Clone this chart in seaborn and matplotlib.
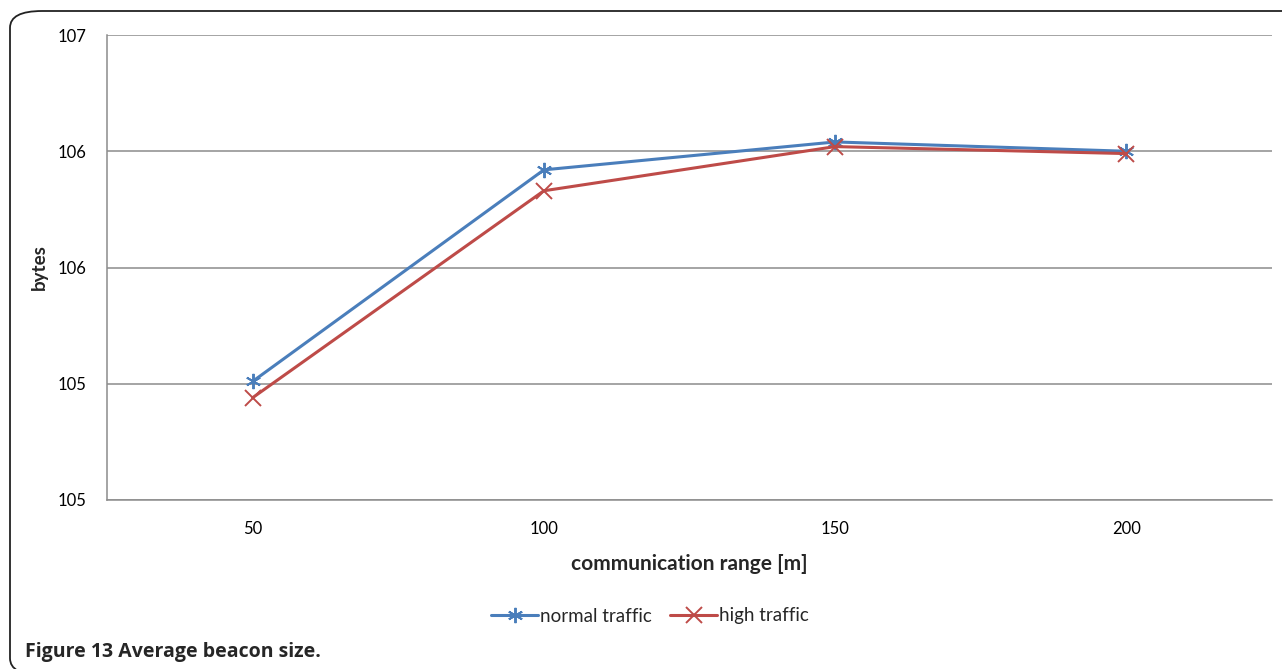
import matplotlib
matplotlib.use("Agg")
import matplotlib.pyplot as plt
import seaborn as sns
import pandas as pd
from matplotlib.patches import FancyBboxPatch

ranges = ["50", "100", "150", "200"]
normal_traffic = [105.01, 105.92, 106.04, 106.00]
high_traffic = [104.94, 105.83, 106.02, 105.99]
y_ticks = [104.5, 105.0, 105.5, 106.0, 106.5]
y_tick_labels = ["105", "105", "106", "106", "107"]
series_names = ["normal traffic", "high traffic"]

df = pd.DataFrame({
    "range": ranges * 2,
    "value": normal_traffic + high_traffic,
    "series": [series_names[0]] * 4 + [series_names[1]] * 4,
})

sns.set_theme(style="white")
plt.rcParams["font.family"] = ["Lato", "DejaVu Sans"]

fig = plt.figure(figsize=(12.82, 6.69), dpi=100)
W, H = 1282, 669
ax = fig.add_axes([107 / W, 1 - 500 / H, (1272 - 107) / W, (500 - 35) / H])

palette = {series_names[0]: "#4A7EBB", series_names[1]: "#BE4B48"}
sns.lineplot(data=df, x="range", y="value", hue="series", style="series",
             markers={series_names[0]: (6, 2, 0), series_names[1]: "x"},
             dashes=False, palette=palette, linewidth=2.2, markersize=11,
             markeredgewidth=1.4, ax=ax, sort=False)
for ln in ax.lines:
    ln.set_markeredgecolor(ln.get_color())
    ln.set_markerfacecolor(ln.get_color())

ax.set_xlim(-0.5, 3.5)
ax.set_ylim(104.5, 106.5)
ax.set_yticks(y_ticks)
ax.set_yticklabels(y_tick_labels)
ax.yaxis.grid(True, color="#8c8c8c", linewidth=1.1)
ax.xaxis.grid(False)
for s in ["top", "right"]:
    ax.spines[s].set_visible(False)
for s in ["left", "bottom"]:
    ax.spines[s].set_color("#8c8c8c")
    ax.spines[s].set_linewidth(1.1)
ax.tick_params(axis="x", labelsize=12, labelcolor="#000000",
               length=4, width=1.0, direction="out", pad=11, color="#bbbbbb")
ax.tick_params(axis="y", labelsize=12, labelcolor="#000000", length=7,
               color="#8c8c8c", direction="out", width=1.1, pad=8)
ax.set_xlabel("communication range [m]", fontsize=15, fontweight="bold", labelpad=12)
ax.set_ylabel("bytes", fontsize=13.5, fontweight="bold", labelpad=7)

leg = fig.legend(*ax.get_legend_handles_labels(), loc="center",
                 bbox_to_anchor=(650 / W, 1 - 616 / H), ncol=2,
                 frameon=False, fontsize=13.5, handlelength=2.5, handletextpad=0.1,
                 columnspacing=1.0)
ax.get_legend().remove()
for line in leg.get_lines():
    line.set_linewidth(2.2)
    line.set_markeredgecolor(line.get_color())
    line.set_markerfacecolor(line.get_color())

fig.patches.append(FancyBboxPatch((10 / W, 1 - 675 / H), 1.2, (675 - 11) / H,
                                  boxstyle="round,pad=0,rounding_size=0.025",
                                  transform=fig.transFigure, fill=False,
                                  edgecolor="#222222", linewidth=1.3))
fig.text(25 / W, 1 - 652 / H, "Figure 13 Average beacon size.", fontsize=14,
         fontweight="bold", va="center", family=["Open Sans", "DejaVu Sans"])

fig.savefig("out.png", dpi=100)
